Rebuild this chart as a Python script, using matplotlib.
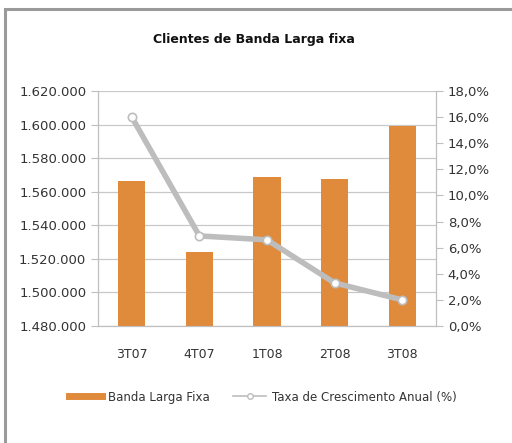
import matplotlib.pyplot as plt
from matplotlib.patches import Rectangle
from matplotlib.lines import Line2D
from matplotlib.ticker import FuncFormatter, MultipleLocator

quarters = ['3T07', '4T07', '1T08', '2T08', '3T08']
clientes = [1566500, 1523800, 1568700, 1567500, 1599300]
crescimento = [16.0, 6.9, 6.6, 3.3, 2.0]

bar_color = '#E08A3C'
line_color = '#BDBDBD'
axis_color = '#BFBFBF'
text_color = '#333333'

fig = plt.figure(figsize=(5.12, 4.43), dpi=100)
fig.patches.append(Rectangle((5 / 512, -0.05), 1.1, 1 - 8.5 / 443 + 0.05,
                             transform=fig.transFigure, fill=False,
                             edgecolor='#9A9A9A', linewidth=2.2))

ax = fig.add_axes([98 / 512, 1 - 326 / 443, 338 / 512, 235 / 443])
x = range(len(quarters))
ax.bar(x, clientes, width=0.4, color=bar_color, zorder=2)
ax.set_ylim(1480000, 1620000)
ax.set_xlim(-0.5, len(quarters) - 0.5)
ax.yaxis.set_major_locator(MultipleLocator(20000))
ax.yaxis.set_major_formatter(FuncFormatter(lambda v, p: f'{int(v):,}'.replace(',', '.')))
ax.set_xticks(list(x))
ax.set_xticklabels(quarters)
ax.grid(axis='y', color='#C8C8C8', linewidth=0.9, zorder=0)
ax.set_axisbelow(True)
ax.spines['top'].set_visible(False)
for side in ['left', 'right', 'bottom']:
    ax.spines[side].set_color(axis_color)
ax.tick_params(axis='y', colors=axis_color, labelcolor=text_color, labelsize=9.5, length=5)
ax.tick_params(axis='x', length=0, labelcolor=text_color, labelsize=9, pad=16)

ax2 = ax.twinx()
ax2.plot(x, crescimento, color=line_color, linewidth=4, marker='o', markersize=6,
         markerfacecolor='white', markeredgecolor=line_color, markeredgewidth=1.2,
         solid_capstyle='round', zorder=3)
ax2.set_ylim(0, 18)
ax2.yaxis.set_major_locator(MultipleLocator(2))
ax2.yaxis.set_major_formatter(FuncFormatter(lambda v, p: f'{v:.1f}%'.replace('.', ',')))
ax2.spines['top'].set_visible(False)
for side in ['left', 'right', 'bottom']:
    ax2.spines[side].set_color(axis_color)
ax2.tick_params(axis='y', colors=axis_color, labelcolor=text_color, labelsize=9.5, length=5)

fig.text(254 / 512, 1 - 40 / 443, 'Clientes de Banda Larga fixa', ha='center', va='center',
         fontsize=9, fontweight='bold', color='#111111')

handles = [
    Line2D([], [], color=bar_color, linewidth=5),
    Line2D([], [], color=line_color, linewidth=1.2, marker='o', markersize=4,
           markerfacecolor='white', markeredgecolor=line_color),
]
fig.legend(handles, ['Banda Larga Fixa', 'Taxa de Crescimento Anual (%)'],
           loc='center', bbox_to_anchor=(263 / 512, 1 - 397 / 443), ncol=2,
           frameon=False, fontsize=8.5, handlelength=2.8, handletextpad=0.5,
           columnspacing=2.0, labelcolor=text_color)

fig.savefig('out.png', dpi=100)
